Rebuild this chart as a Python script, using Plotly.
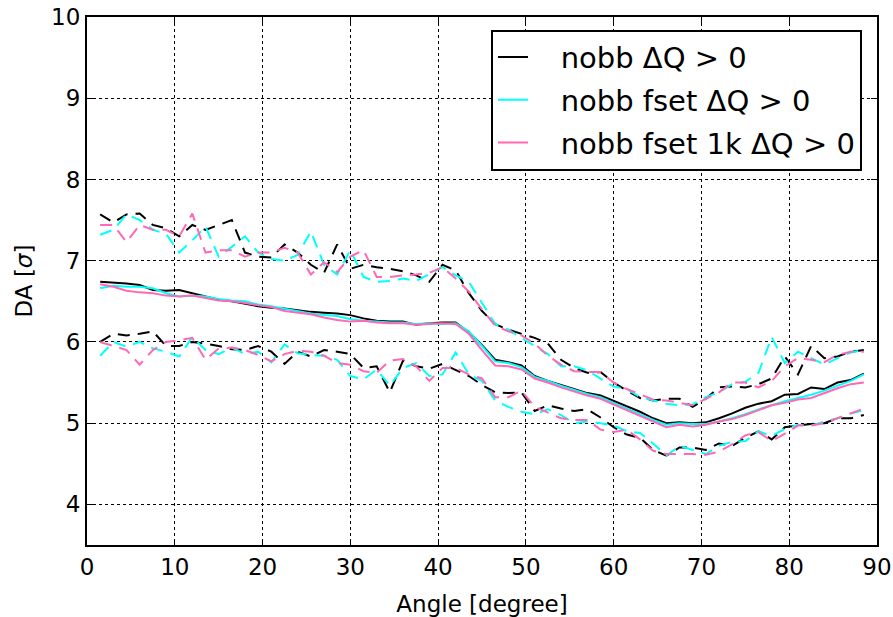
import plotly.graph_objects as go

angle = [1.5, 3, 4.5, 6, 7.5, 9, 10.5, 12, 13.5, 15, 16.5, 18, 19.5, 21, 22.5, 24, 25.5, 27, 28.5, 30,
         31.5, 33, 34.5, 36, 37.5, 39, 40.5, 42, 43.5, 45, 46.5, 48, 49.5, 51, 52.5, 54, 55.5, 57, 58.5, 60,
         61.5, 63, 64.5, 66, 67.5, 69, 70.5, 72, 73.5, 75, 76.5, 78, 79.5, 81, 82.5, 84, 85.5, 87, 88.5]

# nobb dQ>0 (black)
black_mean = [6.74, 6.73, 6.72, 6.70, 6.64, 6.63, 6.64, 6.60, 6.56, 6.52, 6.50, 6.47, 6.44, 6.42, 6.41, 6.39, 6.37, 6.36, 6.35, 6.33,
              6.29, 6.26, 6.25, 6.25, 6.21, 6.23, 6.24, 6.24, 6.12, 5.96, 5.78, 5.75, 5.71, 5.58, 5.52, 5.47, 5.42, 5.37, 5.34, 5.27,
              5.20, 5.14, 5.06, 5.00, 5.01, 5.00, 5.01, 5.06, 5.12, 5.19, 5.24, 5.27, 5.35, 5.36, 5.44, 5.42, 5.50, 5.53, 5.61]
black_up = [7.57, 7.47, 7.57, 7.58, 7.44, 7.40, 7.30, 7.44, 7.38, 7.44, 7.50, 7.10, 7.05, 7.04, 7.20, 7.10, 6.95, 6.85, 7.20, 6.90,
            6.95, 6.92, 6.90, 6.87, 6.82, 6.74, 6.95, 6.88, 6.60, 6.38, 6.22, 6.15, 6.10, 6.05, 5.98, 5.78, 5.68, 5.62, 5.63, 5.50,
            5.40, 5.31, 5.28, 5.30, 5.30, 5.20, 5.30, 5.44, 5.45, 5.44, 5.48, 5.55, 5.82, 5.60, 5.95, 5.80, 5.82, 5.88, 5.90]
black_lo = [6.00, 6.10, 6.08, 6.10, 6.13, 5.95, 5.95, 6.00, 5.98, 5.95, 5.91, 5.90, 5.95, 5.88, 5.73, 5.88, 5.82, 5.90, 5.88, 5.85,
            5.68, 5.70, 5.38, 5.77, 5.70, 5.67, 5.73, 5.65, 5.58, 5.47, 5.38, 5.37, 5.38, 5.15, 5.22, 5.18, 5.15, 5.17, 5.07, 4.95,
            4.86, 4.82, 4.67, 4.60, 4.70, 4.70, 4.67, 4.75, 4.72, 4.82, 4.90, 4.80, 4.95, 4.97, 4.99, 5.00, 5.06, 5.06, 5.10]

# nobb fset dQ>0 (cyan)
cyan_mean = [6.66, 6.69, 6.68, 6.68, 6.66, 6.60, 6.56, 6.57, 6.56, 6.53, 6.51, 6.50, 6.46, 6.44, 6.41, 6.38, 6.35, 6.33, 6.32, 6.28,
             6.26, 6.25, 6.24, 6.24, 6.22, 6.23, 6.22, 6.23, 6.13, 5.95, 5.76, 5.74, 5.69, 5.57, 5.52, 5.46, 5.41, 5.36, 5.32, 5.25,
             5.19, 5.12, 5.04, 4.98, 5.00, 4.99, 4.99, 5.02, 5.06, 5.11, 5.17, 5.22, 5.27, 5.31, 5.35, 5.40, 5.46, 5.52, 5.60]
cyan_up = [7.32, 7.38, 7.57, 7.50, 7.38, 7.33, 7.10, 7.25, 7.42, 7.05, 7.17, 7.30, 7.10, 7.02, 7.00, 7.07, 7.36, 6.95, 6.83, 7.13,
           6.80, 6.74, 6.75, 6.78, 6.75, 6.83, 6.92, 6.82, 6.74, 6.48, 6.22, 6.15, 6.05, 5.95, 5.85, 5.70, 5.70, 5.65, 5.55, 5.45,
           5.42, 5.32, 5.28, 5.24, 5.22, 5.23, 5.32, 5.38, 5.48, 5.51, 5.62, 6.06, 5.74, 5.88, 5.80, 5.72, 5.80, 5.87, 5.90]
cyan_lo = [5.83, 6.00, 5.94, 6.00, 5.92, 5.88, 5.82, 6.06, 5.90, 5.85, 5.93, 5.85, 5.88, 5.75, 5.97, 5.86, 5.84, 5.83, 5.78, 5.58,
           5.54, 5.66, 5.46, 5.68, 5.74, 5.58, 5.60, 5.87, 5.60, 5.52, 5.28, 5.20, 5.14, 5.11, 5.17, 5.10, 5.00, 5.02, 5.00, 4.97,
           4.90, 4.88, 4.75, 4.60, 4.72, 4.67, 4.62, 4.72, 4.77, 4.78, 4.90, 4.84, 4.93, 4.98, 4.97, 5.02, 5.06, 5.12, 5.16]

# nobb fset 1k dQ>0 (pink)
pink_mean = [6.71, 6.68, 6.63, 6.61, 6.60, 6.57, 6.56, 6.57, 6.54, 6.51, 6.50, 6.48, 6.45, 6.43, 6.38, 6.36, 6.34, 6.30, 6.27, 6.25,
             6.26, 6.24, 6.23, 6.23, 6.21, 6.22, 6.23, 6.22, 6.10, 5.90, 5.71, 5.70, 5.66, 5.55, 5.50, 5.44, 5.39, 5.34, 5.30, 5.23,
             5.17, 5.10, 5.02, 4.95, 4.98, 4.96, 4.98, 5.02, 5.05, 5.10, 5.16, 5.22, 5.25, 5.29, 5.31, 5.37, 5.43, 5.48, 5.50]
pink_up = [7.44, 7.44, 7.23, 7.44, 7.38, 7.38, 7.30, 7.58, 7.10, 7.13, 7.13, 7.05, 7.10, 7.10, 7.16, 7.10, 6.83, 6.98, 6.86, 7.05,
           7.13, 6.80, 6.80, 6.82, 6.83, 6.85, 6.92, 6.78, 6.62, 6.40, 6.20, 6.13, 6.08, 5.98, 5.83, 5.72, 5.64, 5.63, 5.63, 5.50,
           5.42, 5.35, 5.29, 5.28, 5.25, 5.22, 5.30, 5.38, 5.50, 5.50, 5.44, 5.52, 5.70, 5.80, 5.78, 5.75, 5.84, 5.88, 5.88]
pink_lo = [6.00, 5.95, 5.90, 5.72, 5.90, 6.00, 6.02, 6.05, 5.78, 5.92, 5.93, 5.90, 5.84, 5.76, 5.85, 5.89, 5.88, 5.83, 5.74, 5.72,
           5.64, 5.62, 5.77, 5.79, 5.70, 5.52, 5.68, 5.68, 5.60, 5.55, 5.32, 5.32, 5.40, 5.20, 5.13, 5.06, 5.04, 5.04, 4.92, 4.89,
           4.92, 4.80, 4.66, 4.62, 4.62, 4.62, 4.61, 4.65, 4.74, 4.85, 4.89, 4.78, 4.87, 4.97, 4.97, 5.00, 5.06, 5.12, 5.18]

names = ["nobb \u0394Q > 0", "nobb fset \u0394Q > 0", "nobb fset 1k \u0394Q > 0"]
colors = ["#000000", "#00FFFF", "#FF69B4"]
series = [(black_mean, black_up, black_lo), (cyan_mean, cyan_up, cyan_lo), (pink_mean, pink_up, pink_lo)]

pad = "\u00a0\u00a0\u00a0"

fig = go.Figure()
for i, (name, col, (m, u, l)) in enumerate(zip(names, colors, series)):
    g = "g%d" % i
    fig.add_trace(go.Scatter(x=angle, y=m, mode="lines", name=pad + name, legendgroup=g,
                             line=dict(color=col, width=2)))
    fig.add_trace(go.Scatter(x=angle, y=u, mode="lines", showlegend=False, legendgroup=g,
                             line=dict(color=col, width=2, dash="12px,8px")))
    fig.add_trace(go.Scatter(x=angle, y=l, mode="lines", showlegend=False, legendgroup=g,
                             line=dict(color=col, width=2, dash="12px,8px")))

axis_common = dict(showline=True, linecolor="black", linewidth=2, mirror="allticks",
                   ticks="inside", ticklen=6, tickwidth=1, tickcolor="black",
                   showgrid=True, gridcolor="black", gridwidth=1, griddash="dot",
                   zeroline=False, automargin=False, ticklabeloverflow="allow",
                   tickfont=dict(size=23, color="black"))

fig.update_xaxes(range=[0, 90], tickvals=[0, 10, 20, 30, 40, 50, 60, 70, 80, 90],
                 title=dict(text="Angle [degree]", font=dict(size=23, color="black"), standoff=22),
                 **axis_common)
fig.update_yaxes(range=[3.5, 10], tickvals=[4, 5, 6, 7, 8, 9, 10],
                 title=dict(text="DA [<i>\u03c3</i>]", font=dict(size=23, color="black"), standoff=12),
                 **axis_common)

fig.update_layout(
    width=893, height=617,
    margin=dict(l=87, r=16, t=17, b=72),
    paper_bgcolor="white", plot_bgcolor="white",
    font=dict(family="DejaVu Sans", color="black"),
    legend=dict(x=0.981, y=0.976, xanchor="right", yanchor="top",
                bgcolor="white", bordercolor="black", borderwidth=2,
                font=dict(size=29, color="black"), tracegroupgap=2),
    showlegend=True,
)

# remove the default 8px body margin so the figure fills the window exactly
fig.write_html("out.html", config={"displayModeBar": False},
               post_script="document.body.style.margin='0';")
